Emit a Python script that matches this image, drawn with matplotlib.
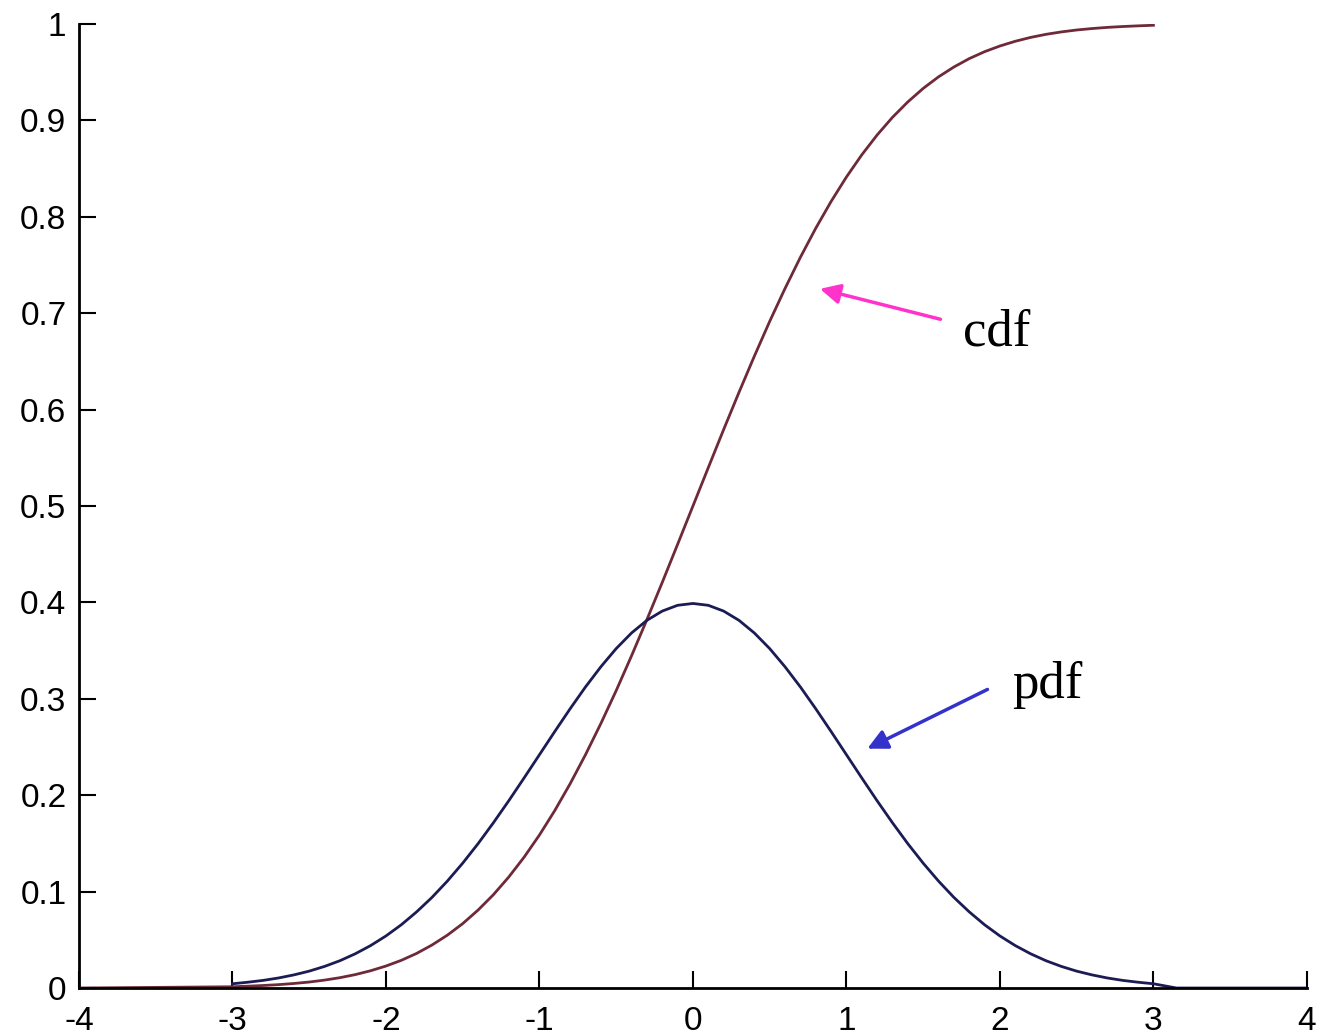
import matplotlib
matplotlib.use("Agg")
import matplotlib.pyplot as plt

plt.rcParams["axes.unicode_minus"] = False

# valores (normal estandar), paso 0.1 entre -3 y 3
x_pdf = [-3.0, -2.9, -2.8, -2.7, -2.6, -2.5, -2.4, -2.3, -2.2, -2.1, -2.0,
         -1.9, -1.8, -1.7, -1.6, -1.5, -1.4, -1.3, -1.2, -1.1, -1.0,
         -0.9, -0.8, -0.7, -0.6, -0.5, -0.4, -0.3, -0.2, -0.1, 0.0,
         0.1, 0.2, 0.3, 0.4, 0.5, 0.6, 0.7, 0.8, 0.9, 1.0,
         1.1, 1.2, 1.3, 1.4, 1.5, 1.6, 1.7, 1.8, 1.9, 2.0,
         2.1, 2.2, 2.3, 2.4, 2.5, 2.6, 2.7, 2.8, 2.9, 3.0, 3.15, 4.0]
pdf = [0.0044, 0.0060, 0.0079, 0.0104, 0.0136, 0.0175, 0.0224, 0.0283, 0.0355, 0.0440, 0.0540,
       0.0656, 0.0790, 0.0940, 0.1109, 0.1295, 0.1497, 0.1714, 0.1942, 0.2179, 0.2420,
       0.2661, 0.2897, 0.3123, 0.3332, 0.3521, 0.3683, 0.3814, 0.3910, 0.3970, 0.3989,
       0.3970, 0.3910, 0.3814, 0.3683, 0.3521, 0.3332, 0.3123, 0.2897, 0.2661, 0.2420,
       0.2179, 0.1942, 0.1714, 0.1497, 0.1295, 0.1109, 0.0940, 0.0790, 0.0656, 0.0540,
       0.0440, 0.0355, 0.0283, 0.0224, 0.0175, 0.0136, 0.0104, 0.0079, 0.0060, 0.0044, 0.0, 0.0]

x_cdf = [-4.0, -3.0, -2.9, -2.8, -2.7, -2.6, -2.5, -2.4, -2.3, -2.2, -2.1, -2.0,
         -1.9, -1.8, -1.7, -1.6, -1.5, -1.4, -1.3, -1.2, -1.1, -1.0,
         -0.9, -0.8, -0.7, -0.6, -0.5, -0.4, -0.3, -0.2, -0.1, 0.0,
         0.1, 0.2, 0.3, 0.4, 0.5, 0.6, 0.7, 0.8, 0.9, 1.0,
         1.1, 1.2, 1.3, 1.4, 1.5, 1.6, 1.7, 1.8, 1.9, 2.0,
         2.1, 2.2, 2.3, 2.4, 2.5, 2.6, 2.7, 2.8, 2.9, 3.0]
cdf = [0.0, 0.0013, 0.0019, 0.0026, 0.0035, 0.0047, 0.0062, 0.0082, 0.0107, 0.0139, 0.0179, 0.0228,
       0.0287, 0.0359, 0.0446, 0.0548, 0.0668, 0.0808, 0.0968, 0.1151, 0.1357, 0.1587,
       0.1841, 0.2119, 0.2420, 0.2743, 0.3085, 0.3446, 0.3821, 0.4207, 0.4602, 0.5,
       0.5398, 0.5793, 0.6179, 0.6554, 0.6915, 0.7257, 0.7580, 0.7881, 0.8159, 0.8413,
       0.8643, 0.8849, 0.9032, 0.9192, 0.9332, 0.9452, 0.9554, 0.9641, 0.9713, 0.9772,
       0.9821, 0.9861, 0.9893, 0.9918, 0.9938, 0.9953, 0.9965, 0.9974, 0.9981, 0.9987]

xticks = [-4, -3, -2, -1, 0, 1, 2, 3, 4]
yticks = [0, 0.1, 0.2, 0.3, 0.4, 0.5, 0.6, 0.7, 0.8, 0.9, 1]
ytick_labels = ["0", "0.1", "0.2", "0.3", "0.4", "0.5", "0.6", "0.7", "0.8", "0.9", "1"]

fig = plt.figure(figsize=(13.2, 10.35), dpi=100)
ax = fig.add_axes([0.0598, 0.0454, 0.9303, 0.9314])

ax.plot(x_cdf, cdf, color="#6e2a38", lw=2)
ax.plot(x_pdf, pdf, color="#1c1c55", lw=2)

ax.set_xlim(-4, 4)
ax.set_ylim(0, 1)
ax.set_xticks(xticks)
ax.set_yticks(yticks)
ax.set_yticklabels(ytick_labels)
for s in ["top", "right"]:
    ax.spines[s].set_visible(False)
for s in ["left", "bottom"]:
    ax.spines[s].set_linewidth(2)
ax.tick_params(direction="in", length=12, width=1.5, labelsize=24, pad=9)
ax.tick_params(axis="x", pad=13)
for lab in ax.get_xticklabels() + ax.get_yticklabels():
    lab.set_fontfamily("Liberation Sans")

# anotaciones
ax.annotate("", xy=(0.81, 0.726), xytext=(1.63, 0.693),
            arrowprops=dict(arrowstyle="-|>", color="#ff33cc", lw=2.5,
                            mutation_scale=30))
ax.text(1.76, 0.68, "cdf", fontsize=38, family="Liberation Serif",
        va="center", ha="left")

ax.annotate("", xy=(1.12, 0.247), xytext=(1.935, 0.311),
            arrowprops=dict(arrowstyle="-|>", color="#3333cc", lw=2.5,
                            mutation_scale=30))
ax.text(2.08, 0.314, "pdf", fontsize=38, family="Liberation Serif",
        va="center", ha="left")

fig.savefig("out.png", dpi=100)
